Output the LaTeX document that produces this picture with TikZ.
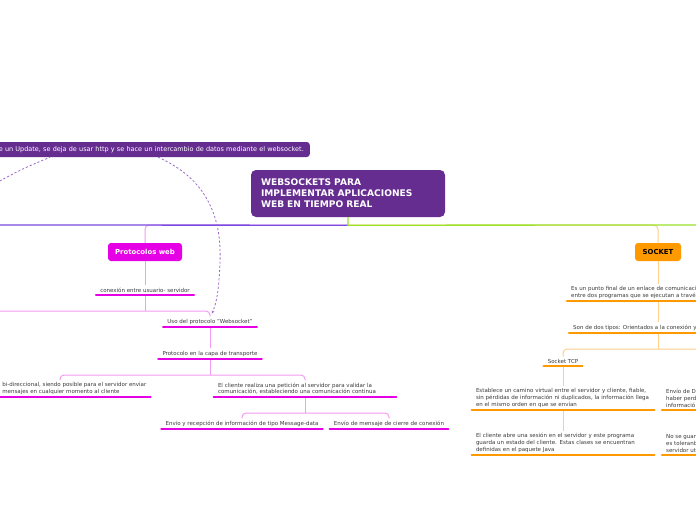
\documentclass[tikz,border=0pt]{standalone}
\usepackage{fontspec}
\setmainfont{DejaVu Sans}
\usepackage{tikz}
\usetikzlibrary{arrows.meta,calc,positioning}
\definecolor{RootPurple}{HTML}{662D91}
\definecolor{MainViolet}{HTML}{7A4BE0}
\definecolor{MainLime}{HTML}{9BE22B}
\definecolor{WebMagenta}{HTML}{E600E6}
\definecolor{WebLine}{HTML}{F29CF2}
\definecolor{SockOrange}{HTML}{FF9900}
\definecolor{SockLine}{HTML}{FFCF8A}
\definecolor{RelDash}{HTML}{9A6BC9}
\definecolor{BodyGray}{HTML}{3A3A3A}

\begin{document}
\begin{tikzpicture}[x=1pt, y=-1pt,
  txt/.style={font=\fontsize{5.5}{6.7}\selectfont, text=BodyGray, align=left, inner xsep=4pt, inner ysep=2.4pt},
  wrapped/.style={txt, text width=174pt},
  rootbox/.style={fill=RootPurple, rounded corners=5pt, text=white, font=\fontsize{9.1}{11}\selectfont\bfseries, align=left, text width=174pt, minimum height=47pt, inner xsep=10pt},
  mainbox/.style={rounded corners=3pt, font=\fontsize{6.9}{8}\selectfont\bfseries, minimum height=18pt, inner sep=0pt},
  webline/.style={WebLine, line width=1pt},
  sockline/.style={SockLine, line width=1pt},
  uline/.style={line width=2.6pt, line cap=round},
  rel/.style={RelDash, line width=0.8pt, dash pattern=on 2.2pt off 2pt}]
  \fill[white] (0,0) rectangle (696,520);
  \useasboundingbox (0,0) rectangle (696,520);
  \clip (0,0) rectangle (696,520);

  \node[rootbox] (root) at (348,193.5) {WEBSOCKETS PARA\\IMPLEMENTAR APLICACIONES\\WEB EN TIEMPO REAL};
  \node[fill=RootPurple, rounded corners=3pt, text=white, font=\fontsize{6.5}{7.5}\selectfont, text width=320pt, align=right, inner xsep=6pt, inner ysep=0pt, minimum height=15pt, anchor=east] (rellabel) at (310,149.5) {e un Update, se deja de usar http y se hace un intercambio de datos mediante el websocket.};
  \node[mainbox, fill=WebMagenta, text=white, minimum width=74pt] (proto) at (145,252) {Protocolos web};
  \node[mainbox, fill=SockOrange, text=black, minimum width=46pt] (socket) at (658,252) {SOCKET};

  \node[txt, anchor=south] (conex) at (145,295) {conexión entre usuario- servidor};
  \node[txt, anchor=south] (uso) at (210,327) {Uso del protocolo "Websocket"};
  \node[txt, anchor=south] (capa) at (210,359) {Protocolo en la capa de transporte};
  \node[txt, anchor=south east] (bidir) at (150.5,397) {bi-direccional, siendo posible para el servidor enviar\\mensajes en cualquier momento al cliente};
  \node[wrapped, anchor=south] (cliente) at (305,397) {El cliente realiza una petición al servidor para validar la\\comunicación, estableciendo una comunicación continua};
  \node[txt, anchor=south] (envio) at (242,429) {Envío y recepción de información de tipo Message-data};
  \node[txt, anchor=south] (cierre) at (389,429) {Envío de mensaje de cierre de conexión};

  \node[txt, anchor=south west] (punto) at (567,301) {Es un punto final de un enlace de comunicaci\\entre dos programas que se ejecutan a travé};
  \node[txt, anchor=south west] (tipos) at (569,333) {Son de dos tipos: Orientados a la conexión y};
  \node[txt, anchor=south] (tcp) at (563,366) {Socket TCP};
  \node[wrapped, anchor=south] (camino) at (563,410) {Establece un camino virtual entre el servidor y cliente, fiable,\\sin pérdidas de información ni duplicados, la información llega\\en el mismo orden en que se envían};
  \node[wrapped, anchor=south] (sesion) at (563,455) {El cliente abre una sesión en el servidor y este programa\\guarda un estado del cliente. Estas clases se encuentran\\definidas en el paquete Java};
  \node[txt, anchor=south west] (envioD) at (662,410) {Envío de D\\haber perd\\informació};
  \node[txt, anchor=south west] (noguar) at (662,455) {No se guar\\es toleranb\\servidor uti};

  \coordinate (fork) at ($(root.south)+(0,8)$);
  \coordinate (leftEnd) at (-4,225);
  \coordinate (rightEnd) at (700,225);
  \draw[webline, rounded corners=4pt] (fork) -| (proto.north);
  \draw[sockline, rounded corners=4pt] (fork) -| (socket.north);
  \draw[MainViolet, line width=1.3pt] (fork) -- (leftEnd);
  \draw[MainLime, line width=1.3pt] (root.south) -- (fork) -- (rightEnd);

  \coordinate (conexFork) at (145,311);
  \coordinate (conexOff) at (-4,311);
  \coordinate (capaFork) at (210,375);
  \coordinate (bidirTop) at (60,380);
  \coordinate (clienteFork) at (305,413);
  \draw[webline] (proto.south) -- (conex.north);
  \draw[webline] (conex.south) -- (conexFork);
  \draw[webline, rounded corners=4pt] (conexOff) -| (uso.north);
  \draw[webline] (uso.south) -- (capa.north);
  \draw[webline] (capa.south) -- (capaFork);
  \draw[webline, rounded corners=4pt] (bidirTop) |- (capaFork) -| (cliente.north);
  \draw[webline] (cliente.south) -- (clienteFork);
  \draw[webline, rounded corners=4pt] (envio.north) |- (clienteFork) -| (cierre.north);

  \coordinate (tiposFork) at (658,349);
  \coordinate (tiposOff) at (700,349);
  \draw[sockline] (socket.south) -- (socket.south |- punto.north);
  \draw[sockline] (socket.south |- punto.south) -- (socket.south |- tipos.north);
  \draw[sockline] (socket.south |- tipos.south) -- (tiposFork);
  \draw[sockline, rounded corners=4pt] (tcp.north) |- (tiposOff);
  \draw[sockline] (tcp.south) -- (camino.north);
  \draw[sockline] (camino.south) -- (sesion.north);

  \foreach \n in {conex,uso,capa,bidir,cliente,envio,cierre}
    \draw[uline, WebMagenta] (\n.south west) -- (\n.south east);
  \foreach \n in {tcp,camino,sesion}
    \draw[uline, SockOrange] (\n.south west) -- (\n.south east);
  \foreach \n in {punto,tipos,envioD,noguar}
    \draw[uline, SockOrange] (\n.south west) -- (\n.south west -| rightEnd);

  \coordinate (relOff) at (-4,183);
  \draw[rel] (relOff) .. controls (22,169) .. ($(rellabel.south east)+(-260,0)$);
  \draw[rel, -{Stealth[length=3pt, width=3pt]}] ($(rellabel.south east)+(-152,0)$) .. controls (205,178) and (222,215) .. (220,262) .. controls (219,292) and (216,304) .. ($(uso.north)+(2,-3)$);
\end{tikzpicture}
\end{document}
